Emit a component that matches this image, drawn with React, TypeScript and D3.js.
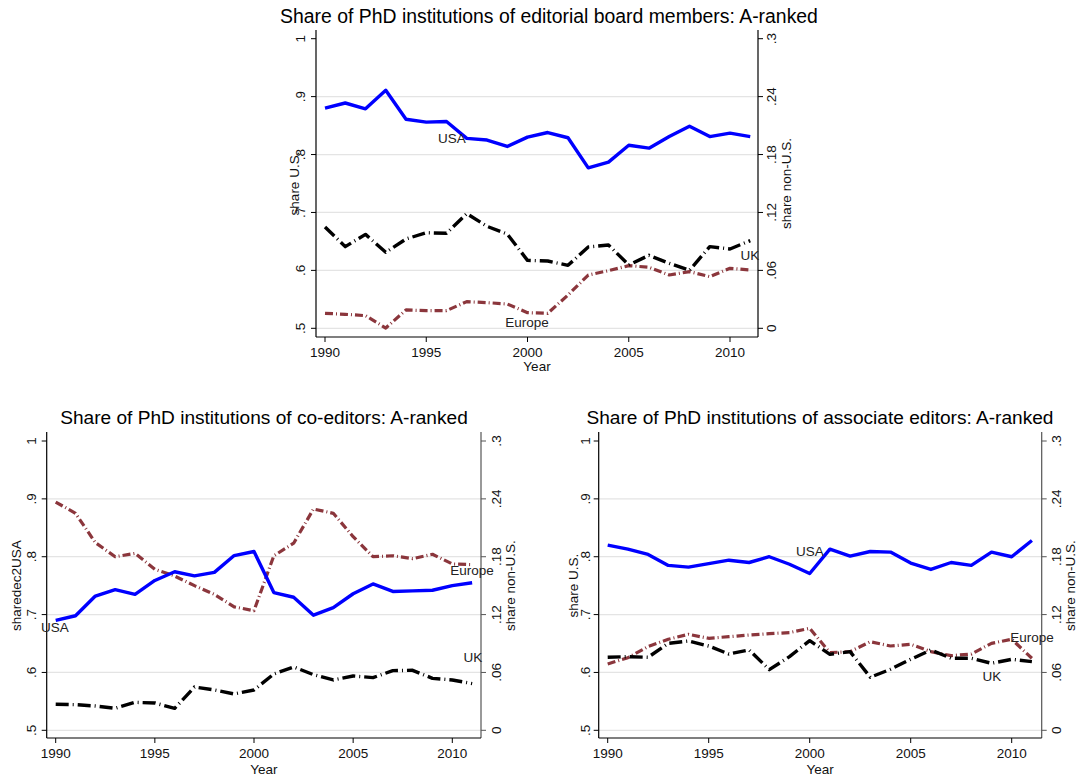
import React from "react";
import * as d3 from "d3";

const years = d3.range(1990, 2012);
const xTicks = [1990, 1995, 2000, 2005, 2010];
const leftTicks = [0.5, 0.6, 0.7, 0.8, 0.9, 1];
const leftTickLabels = [".5", ".6", ".7", ".8", ".9", "1"];
const rightTicks = [0, 0.06, 0.12, 0.18, 0.24, 0.3];
const rightTickLabels = ["0", ".06", ".12", ".18", ".24", ".3"];

// Editorial board members
const boardUSA = [0.880, 0.889, 0.879, 0.911, 0.861, 0.856, 0.857, 0.828, 0.825, 0.814, 0.830, 0.838, 0.829, 0.777, 0.787, 0.816, 0.811, 0.831, 0.849, 0.831, 0.837, 0.831];
const boardUK = [0.105, 0.0846, 0.0973, 0.0787, 0.0925, 0.099, 0.0984, 0.1188, 0.1056, 0.0977, 0.0704, 0.0697, 0.0652, 0.0842, 0.0863, 0.0656, 0.0756, 0.0673, 0.0601, 0.0846, 0.0822, 0.0908];
const boardEurope = [0.0155, 0.0145, 0.0131, 0.0003, 0.019, 0.0183, 0.0183, 0.0276, 0.0266, 0.0252, 0.0162, 0.0155, 0.0345, 0.0552, 0.0597, 0.0649, 0.0632, 0.0552, 0.0587, 0.0535, 0.0621, 0.0604];

// Co-editors
const coUSA = [0.690, 0.698, 0.732, 0.743, 0.735, 0.759, 0.774, 0.767, 0.773, 0.802, 0.809, 0.738, 0.730, 0.699, 0.712, 0.736, 0.753, 0.740, 0.741, 0.742, 0.750, 0.755];
const coUK = [0.027, 0.0266, 0.0252, 0.0228, 0.029, 0.0283, 0.0228, 0.0449, 0.0418, 0.0377, 0.0418, 0.0584, 0.0657, 0.0577, 0.0522, 0.0563, 0.0546, 0.0619, 0.0622, 0.0539, 0.0522, 0.0484];
const coEurope = [0.2367, 0.225, 0.1946, 0.180, 0.1835, 0.167, 0.160, 0.150, 0.141, 0.128, 0.124, 0.181, 0.194, 0.2295, 0.225, 0.2008, 0.180, 0.181, 0.178, 0.1825, 0.1725, 0.1718];

// Associate editors
const assocUSA = [0.820, 0.813, 0.804, 0.785, 0.782, 0.788, 0.794, 0.790, 0.800, 0.787, 0.771, 0.813, 0.801, 0.809, 0.808, 0.789, 0.778, 0.790, 0.785, 0.808, 0.800, 0.828];
const assocUK = [0.0757, 0.0764, 0.0757, 0.0902, 0.0926, 0.0874, 0.0791, 0.0833, 0.0629, 0.0764, 0.0930, 0.0788, 0.0816, 0.055, 0.0633, 0.0736, 0.0833, 0.0747, 0.0747, 0.0695, 0.0736, 0.0712];
const assocEurope = [0.0688, 0.0753, 0.0868, 0.0944, 0.0995, 0.0954, 0.0971, 0.0988, 0.1002, 0.1013, 0.1058, 0.0805, 0.0816, 0.0919, 0.0874, 0.0892, 0.0816, 0.0774, 0.0791, 0.0902, 0.0944, 0.0747];

const FONT = "'Liberation Sans', Arial, Helvetica, sans-serif";
const BLUE = "#0000ff";
const MAROON = "#8b363c";

type PanelProps = {
  title: string;
  titleX: number;
  titleY: number;
  titleSize: number;
  leftTitle: string;
  frame: { l: number; r: number; t: number; b: number };
  x0: number;
  x1: number;
  yTop: number;
  yBot: number;
  leftTickX: number;
  leftTitleX: number;
  rightTickX: number;
  rightTitleX: number;
  xTickY: number;
  yearY: number;
  rightAxisColor: string;
  usa: number[];
  uk: number[];
  europe: number[];
  labels: { usa: [number, number]; uk: [number, number]; europe: [number, number] };
};

function Panel(p: PanelProps) {
  const x = d3.scaleLinear().domain([1990, 2010]).range([p.x0, p.x1]);
  const yL = d3.scaleLinear().domain([0.5, 1]).range([p.yBot, p.yTop]);
  const yR = d3.scaleLinear().domain([0, 0.3]).range([p.yBot, p.yTop]);
  const lineL = d3.line<number>().x((_, i) => x(years[i])).y((d) => yL(d));
  const lineR = d3.line<number>().x((_, i) => x(years[i])).y((d) => yR(d));
  const { l, r, t, b } = p.frame;
  const midY = (p.yTop + p.yBot) / 2;
  return (
    <g fontFamily={FONT}>
      <text x={p.titleX} y={p.titleY} textAnchor="middle" fontSize={p.titleSize} fill="#000">
        {p.title}
      </text>
      {leftTicks.map((v) => (
        v < 1 ? <line key={"g" + v} x1={l} x2={r} y1={yL(v)} y2={yL(v)} stroke="#e4e4e4" strokeWidth={1.2} /> : null
      ))}
      {/* axes */}
      <line x1={l} x2={l} y1={t} y2={b} stroke="#000" strokeWidth={1.2} />
      <line x1={r} x2={r} y1={t} y2={b} stroke={p.rightAxisColor} strokeWidth={1.2} />
      <line x1={l} x2={r} y1={b} y2={b} stroke="#000" strokeWidth={1.2} />
      {leftTicks.map((v, i) => (
        <g key={"lt" + v}>
          <line x1={l - 5} x2={l} y1={yL(v)} y2={yL(v)} stroke="#000" strokeWidth={1} />
          <text transform={`translate(${p.leftTickX},${yL(v)}) rotate(-90)`} textAnchor="middle" dy="0.35em" fontSize={13.5} fill="#111">
            {leftTickLabels[i]}
          </text>
        </g>
      ))}
      {rightTicks.map((v, i) => (
        <g key={"rt" + v}>
          <line x1={r} x2={r + 5} y1={yR(v)} y2={yR(v)} stroke={p.rightAxisColor} strokeWidth={1} />
          <text transform={`translate(${p.rightTickX},${yR(v)}) rotate(-90)`} textAnchor="middle" dy="0.35em" fontSize={13.5} fill="#111">
            {rightTickLabels[i]}
          </text>
        </g>
      ))}
      {xTicks.map((v) => (
        <g key={"xt" + v}>
          <line x1={x(v)} x2={x(v)} y1={b} y2={b + 5} stroke="#000" strokeWidth={1} />
          <text x={x(v)} y={p.xTickY} textAnchor="middle" dy="0.35em" fontSize={13.5} fill="#111">
            {v}
          </text>
        </g>
      ))}
      <text x={(l + r) / 2} y={p.yearY} textAnchor="middle" dy="0.35em" fontSize={13.5} fill="#111">
        Year
      </text>
      <text transform={`translate(${p.leftTitleX},${midY}) rotate(-90)`} textAnchor="middle" dy="0.35em" fontSize={13.5} fill="#111">
        {p.leftTitle}
      </text>
      <text transform={`translate(${p.rightTitleX},${midY}) rotate(-90)`} textAnchor="middle" dy="0.35em" fontSize={13.5} fill="#111">
        share non-U.S.
      </text>
      {/* series */}
      <path d={lineR(p.europe) || ""} fill="none" stroke={MAROON} strokeWidth={3.2} strokeDasharray="8,3,1,3" strokeLinejoin="round" />
      <path d={lineR(p.uk) || ""} fill="none" stroke="#000" strokeWidth={3.4} strokeDasharray="13,4,1,4" strokeLinejoin="round" />
      <path d={lineL(p.usa) || ""} fill="none" stroke={BLUE} strokeWidth={3.4} strokeLinejoin="round" />
      <text x={p.labels.usa[0]} y={p.labels.usa[1]} textAnchor="middle" dy="0.35em" fontSize={13.5} fill="#222">USA</text>
      <text x={p.labels.uk[0]} y={p.labels.uk[1]} textAnchor="middle" dy="0.35em" fontSize={13.5} fill="#222">UK</text>
      <text x={p.labels.europe[0]} y={p.labels.europe[1]} textAnchor="middle" dy="0.35em" fontSize={13.5} fill="#222">Europe</text>
    </g>
  );
}

export default function App() {
  return (
    <svg width={1086} height={778} style={{ position: "absolute", left: 0, top: 0, background: "#fff" }}>
      <rect x={0} y={0} width={1086} height={778} fill="#fff" />
      <Panel
        title="Share of PhD institutions of editorial board members: A-ranked"
        titleX={549}
        titleY={23}
        titleSize={19.4}
        leftTitle="share U.S."
        frame={{ l: 316, r: 758, t: 30, b: 337 }}
        x0={325}
        x1={730}
        yTop={38.7}
        yBot={328.3}
        leftTickX={300.5}
        leftTitleX={294}
        rightTickX={771.7}
        rightTitleX={786.7}
        xTickY={352}
        yearY={366}
        rightAxisColor="#000"
        usa={boardUSA}
        uk={boardUK}
        europe={boardEurope}
        labels={{ usa: [452, 138], uk: [750, 255], europe: [527, 322] }}
      />
      <Panel
        title="Share of PhD institutions of co-editors: A-ranked"
        titleX={264}
        titleY={424}
        titleSize={19.1}
        leftTitle="sharedec2USA"
        frame={{ l: 46.7, r: 481, t: 432, b: 738 }}
        x0={55.7}
        x1={452.3}
        yTop={441}
        yBot={730.3}
        leftTickX={31.7}
        leftTitleX={16}
        rightTickX={496.7}
        rightTitleX={510}
        xTickY={753}
        yearY={769}
        rightAxisColor="#555"
        usa={coUSA}
        uk={coUK}
        europe={coEurope}
        labels={{ usa: [55, 627], uk: [473, 657], europe: [472, 570] }}
      />
      <Panel
        title="Share of PhD institutions of associate editors: A-ranked"
        titleX={820}
        titleY={424}
        titleSize={19.1}
        leftTitle="share U.S."
        frame={{ l: 598.7, r: 1041.7, t: 432, b: 738 }}
        x0={607.7}
        x1={1011.7}
        yTop={441}
        yBot={730.3}
        leftTickX={585}
        leftTitleX={573.3}
        rightTickX={1056.7}
        rightTitleX={1070}
        xTickY={753}
        yearY={769}
        rightAxisColor="#555"
        usa={assocUSA}
        uk={assocUK}
        europe={assocEurope}
        labels={{ usa: [810, 551], uk: [992, 676], europe: [1032, 637] }}
      />
    </svg>
  );
}
